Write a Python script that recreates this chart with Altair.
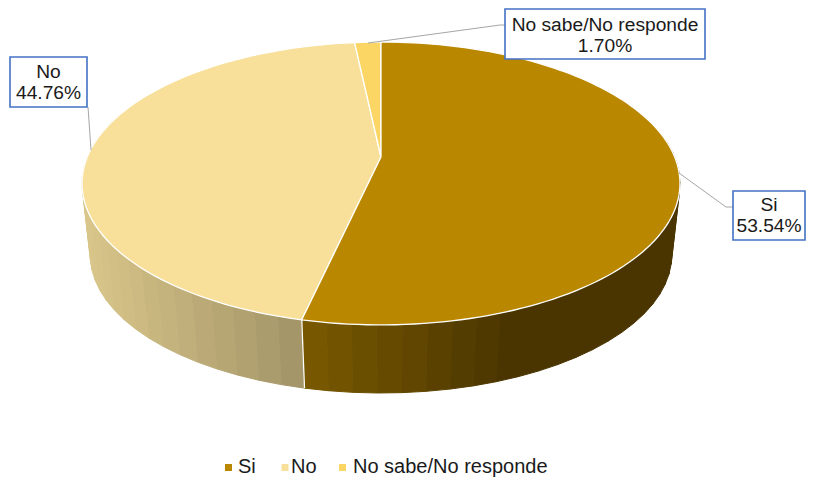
import math
import altair as alt
import pandas as pd

categories = ["Si", "No", "No sabe/No responde"]
shares = [53.54, 44.76, 1.70]
top_colors = ["#BA8700", "#F8E09B", "#FBD664"]
label_lines = [["Si", "53.54%"], ["No", "44.76%"], ["No sabe/No responde", "1.70%"]]

# perspective disc: (centre x, apex y, half width, half depth, foreshortening)
TOP = (381, 157, 293.7, 136.5, 0.187)
BOTTOM = (381, 230.2, 286, 133.5, 0.18)


def project(disc, deg):
    cx, cy, a, b, k = disc
    t = math.radians(deg)
    d = 1 + k * math.cos(t)
    return cx + a * math.sin(t) / d, cy - b * math.cos(t) / d


def mix(c1, c2, f):
    f = max(0, min(1, f))
    return "#%02x%02x%02x" % tuple(round(p + (q - p) * f) for p, q in zip(c1, c2))


X = alt.X("x:Q", axis=None, scale=alt.Scale(domain=[8, 806], nice=False, zero=False))
Y = alt.Y("y:Q", axis=None, scale=alt.Scale(domain=[477, 8], nice=False, zero=False))

edges = [0]
for s in shares:
    edges.append(edges[-1] + s * 3.6)

# side wall strips
wall = []
sid = 0


def add_wall(start, end, n, colorfn):
    global sid
    for j in range(n):
        t0 = start + (end - start) * j / n
        t1 = start + (end - start) * (j + 1) / n
        pts = [project(TOP, t0), project(TOP, t1), project(BOTTOM, t1), project(BOTTOM, t0), project(TOP, t0)]
        col = colorfn(project(BOTTOM, (t0 + t1) / 2)[0])
        for i, (x, y) in enumerate(pts):
            wall.append({"x": x, "y": y, "i": i, "sid": sid, "c": col})
        sid += 1


add_wall(edges[1], 290, 24, lambda x: mix((0xD9, 0xC6, 0x8A), (0xA3, 0x94, 0x68), (x - 90) / 212))
add_wall(80, edges[1], 28, lambda x: mix((0x7A, 0x5A, 0x00), (0x4A, 0x35, 0x00), (x - 304) / 200))
wall_layer = alt.Chart(pd.DataFrame(wall)).mark_line(strokeWidth=1).encode(
    x=X, y=Y, order="i:Q", detail="sid:N",
    fill=alt.Fill("c:N", scale=None), stroke=alt.Stroke("c:N", scale=None),
)

# wall divider
p0, p1 = project(TOP, edges[1]), project(BOTTOM, edges[1])
divider = alt.Chart(pd.DataFrame({"x": [p0[0], p1[0]], "y": [p0[1], p1[1]]})).mark_line(
    color="#FFFFFF", strokeWidth=1.3
).encode(x=X, y=Y)

# top slices
slices = []
for n, idx in enumerate([1, 2, 0]):
    pts = [(TOP[0], TOP[1])]
    steps = max(4, int((edges[idx + 1] - edges[idx]) / 1.5))
    for j in range(steps + 1):
        pts.append(project(TOP, edges[idx] + (edges[idx + 1] - edges[idx]) * j / steps))
    pts.append((TOP[0], TOP[1]))
    slices.append(
        alt.Chart(pd.DataFrame([{"x": x, "y": y, "i": i} for i, (x, y) in enumerate(pts)]))
        .mark_line(fill=top_colors[idx], stroke="#FFFFFF", strokeWidth=1.3, strokeJoin="round")
        .encode(x=X, y=Y, order="i:Q")
    )

# leader lines
leaders = []
leader_paths = [
    [(679, 173), (726, 207), (733, 207)],
    [(88, 107), (91, 150)],
    [(505, 25), (500, 25), (368, 43)],
]
for lid, path in enumerate(leader_paths):
    leaders += [{"x": x, "y": y, "i": i, "lid": lid} for i, (x, y) in enumerate(path)]
leader_layer = alt.Chart(pd.DataFrame(leaders)).mark_line(color="#A6A6A6", strokeWidth=1).encode(
    x=X, y=Y, order="i:Q", detail="lid:N"
)

# label boxes
boxes = pd.DataFrame({
    "x": [733, 10, 505], "x2": [805, 87, 705],
    "y": [191, 57, 9], "y2": [240, 107, 59],
})
box_layer = alt.Chart(boxes).mark_rect(fill="#FFFFFF", stroke="#4472C4", strokeWidth=1.6).encode(
    x=X, x2="x2:Q", y=Y, y2="y2:Q"
)
centers = [(769, 205), (48.5, 72), (605, 25)]
label_rows = []
for (cx, cy), lines in zip(centers, label_lines):
    for k, line in enumerate(lines):
        label_rows.append({"x": cx, "y": cy + 21 * k, "t": line})
label_layer = alt.Chart(pd.DataFrame(label_rows)).mark_text(
    font="Liberation Sans", fontSize=19.2, color="#1A1A1A", align="center", baseline="middle"
).encode(x=X, y=Y, text="t:N")

# legend
legend_sq = pd.DataFrame({"x": [228.5, 285, 342.5], "y": [467.5] * 3, "c": top_colors})
legend_marks = alt.Chart(legend_sq).mark_square(size=49, opacity=1).encode(
    x=X, y=Y, fill=alt.Fill("c:N", scale=None), stroke=alt.value(None)
)
legend_txt = pd.DataFrame({"x": [238, 291, 353], "y": [467] * 3, "t": categories})
legend_text = alt.Chart(legend_txt).mark_text(
    font="Liberation Sans", fontSize=20, color="#1A1A1A", align="left", baseline="middle"
).encode(x=X, y=Y, text="t:N")

chart = alt.layer(
    wall_layer, divider, *slices, leader_layer, box_layer, label_layer, legend_marks, legend_text
).properties(
    width=798, height=469, padding=0, background="#FFFFFF",
    autosize=alt.AutoSizeParams(type="none"),
).configure_view(stroke=None)

chart.save("out.html", embed_options={"renderer": "svg", "actions": False})
